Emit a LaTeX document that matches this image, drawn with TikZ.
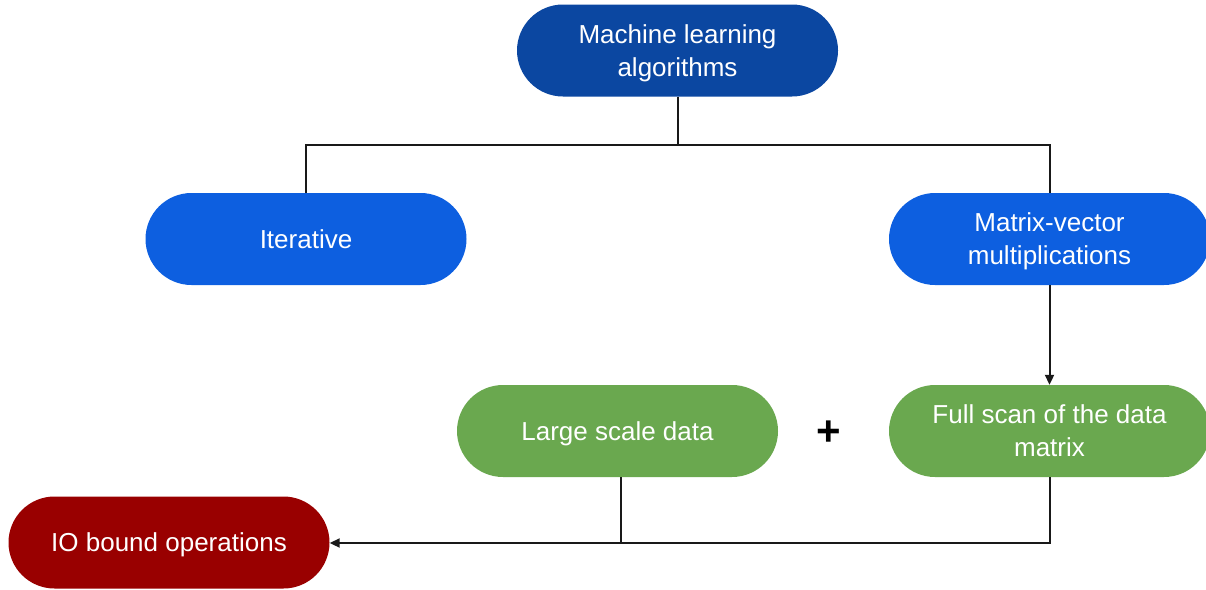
\documentclass[tikz,border=0pt]{standalone}
\usepackage{fontspec}
\setmainfont{Liberation Sans}
\usetikzlibrary{arrows.meta}
\definecolor{mlblue}{HTML}{0B47A1}
\definecolor{brblue}{HTML}{0D5FE0}
\definecolor{gdgreen}{HTML}{6AA84F}
\definecolor{dkred}{HTML}{990000}
\tikzset{
  pill/.style={rectangle, rounded corners=46pt, minimum width=321pt, minimum height=92pt,
    inner sep=0pt, text=white, align=center, font=\fontsize{26}{33}\selectfont,
    text height=20pt, text depth=1.4pt},
  pilltwo/.style={pill, text height=53pt},
  conn/.style={draw=black!90, line width=2pt},
  arr/.style={conn, -{Triangle[length=10pt,width=9pt]}}
}
\begin{document}
\begin{tikzpicture}[x=1pt,y=-1pt]
\useasboundingbox (0,0) rectangle (1206,589);
\node[pilltwo, fill=mlblue] (ml) at (677.5,50.5) {Machine learning\\algorithms};
\node[pill, fill=brblue] (it) at (306,239) {Iterative};
\node[pilltwo, fill=brblue] (mv) at (1049.5,239) {Matrix-vector\\multiplications};
\node[pill, fill=gdgreen] (ls) at (617.5,431) {Large scale data};
\node[pilltwo, fill=gdgreen] (fs) at (1049.5,431) {Full scan of the data\\matrix};
\node[pill, fill=dkred] (io) at (169,542.5) {IO bound operations};
\node[font=\fontsize{42}{42}\selectfont\bfseries, inner sep=0pt] (plus) at (829,433) {+};
\coordinate (split) at (677.5,145);
\coordinate (join) at (621,543);
\draw[conn] (ml.south) -- (split);
\draw[conn] (split) -| (it.north);
\draw[conn] (split) -| (mv.north);
\draw[arr] (mv.south) -- (fs.north);
\draw[arr] (ls.south -| join) -- (join) -- (io.east |- join);
\draw[conn] (fs.south) |- (join);
\end{tikzpicture}
\end{document}
